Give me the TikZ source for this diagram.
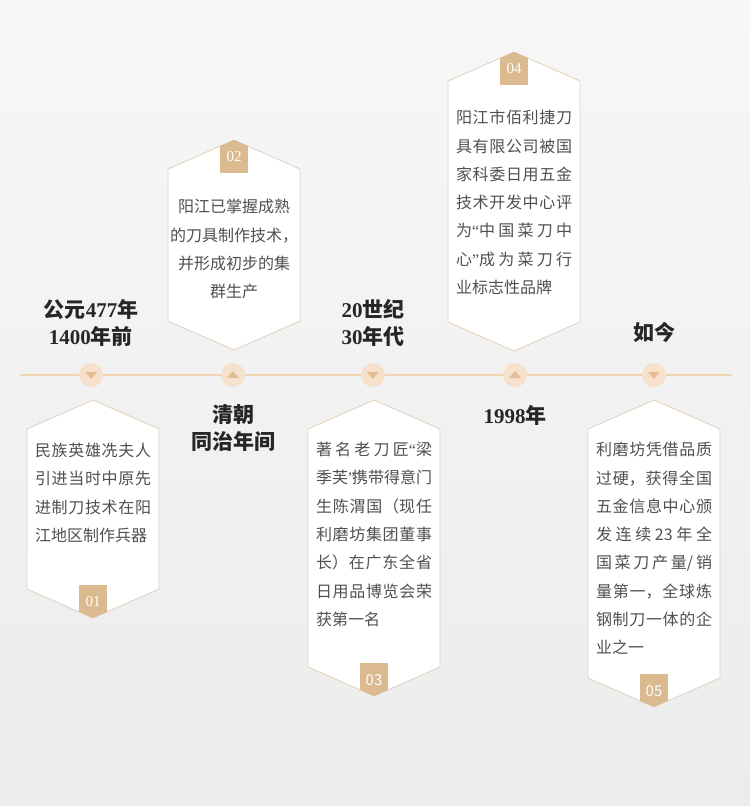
\documentclass[tikz,border=0pt]{standalone}
\usepackage{fontspec}
\setmainfont{Liberation Serif}
\newfontfamily\cjk{Noto Sans CJK SC}
\newcommand{\zh}[1]{{\cjk #1}}
\newcommand{\qm}[1]{{\rmfamily #1}}
\XeTeXlinebreaklocale "zh"
\XeTeXlinebreakskip=0pt plus 6pt minus 0.6pt

\definecolor{bgtop}{RGB}{247,247,247}
\definecolor{bgbot}{RGB}{236,236,236}
\definecolor{linec}{RGB}{240,212,178}
\definecolor{cardline}{RGB}{226,208,186}
\definecolor{badgec}{RGB}{218,186,142}
\definecolor{dotc}{RGB}{246,226,204}
\definecolor{tipc}{RGB}{228,190,146}
\definecolor{bodyc}{RGB}{80,80,80}
\definecolor{labc}{RGB}{38,38,38}

\begin{document}
\begin{tikzpicture}[x=1pt, y=-1pt,
    card/.style={draw=cardline, line width=0.8pt, fill=white},
    badgenum/.style={text=white, font=\fontsize{15}{15}\selectfont, inner sep=0pt},
    body/.style={text=bodyc, font=\cjk\fontsize{16}{28.3}\selectfont,
        text width=116pt, align=justify, inner sep=0pt, anchor=north},
    lab/.style={text=labc, font=\fontsize{21}{27}\selectfont\bfseries,
        align=center, inner sep=0pt},
    dot/.style={circle, minimum size=24pt, inner sep=0pt, fill=dotc}]

    % Background
    \useasboundingbox (0,0) rectangle (750,806);
    \shade[top color=bgtop, bottom color=bgbot] (0,0) rectangle (750,806);

    % Timeline
    \coordinate (start) at (20,375);
    \coordinate (end) at (732,375);
    \draw[line width=1.4pt, linec] (start) -- (end);

    % Cards: centre x / top apex / bottom apex / badge on top (0) or bottom (1) / number
    \foreach \cx/\ya/\yb/\side/\num in {93/400/618/1/01, 234/140/350/0/02,
        374/400/696/1/{\cjk 03}, 514/52/351/0/04, 654/400/707/1/{\cjk 05}}{
        \draw[card] (\cx,\ya) -- (\cx+66,\ya+29) -- (\cx+66,\yb-29) -- (\cx,\yb)
            -- (\cx-66,\yb-29) -- (\cx-66,\ya+29) -- cycle;
        \pgfmathsetmacro\by{\side==0 ? \ya : \yb-33}
        \begin{scope}
            \clip (\cx,\ya) -- (\cx+66,\ya+29) -- (\cx+66,\yb-29) -- (\cx,\yb)
                -- (\cx-66,\yb-29) -- (\cx-66,\ya+29) -- cycle;
            \fill[badgec] (\cx-14,\by) rectangle (\cx+14,\by+33);
        \end{scope}
        \node[badgenum] at (\cx,\by+17) {\num};
    }

    % Markers on the line (1 points down, -1 points up)
    \foreach \x/\d [count=\i] in {91/1, 233/-1, 373/1, 515/-1, 654/1}{
        \node[dot] (dot\i) at (\x,375) {};
        \fill[tipc] ([shift={(-6,-3*\d)}]dot\i.center) -- ([shift={(6,-3*\d)}]dot\i.center)
            -- ([shift={(0,4*\d)}]dot\i.center) -- cycle;
    }

    % Dates
    \node[lab] (lab1) at (91,323) {\zh{公元}477\zh{年}\\1400\zh{年前}};
    \node[lab] (lab2) at (233,428) {\zh{清朝}\\\zh{同治年间}};
    \node[lab] (lab3) at (373,323) {20\zh{世纪}\\30\zh{年代}};
    \node[lab] (lab4) at (515,415) {1998\zh{年}};
    \node[lab] (lab5) at (654,332) {\zh{如今}};

    % Card texts
    \node[body] (txt1) at (93,443) {民族英雄冼夫人\linebreak 引进当时中原先\linebreak
        进制刀技术在阳\linebreak 江地区制作兵器};
    \node[body, text width=132pt, align=center] (txt2) at (234,199) {\XeTeXlinebreakskip=0pt
        阳江已掌握成熟\\的刀具制作技术，\\并形成初步的集\\群生产};
    \node[body] (txt3) at (374,442) {著名老刀匠\qm{“}梁\linebreak
        \mbox{季芙\qm{”}\hspace{-3pt}携带得意门}\linebreak
        生陈渭国（现任\linebreak 利磨坊集团董事\linebreak 长）在广东全省\linebreak
        日用品博览会荣\linebreak 获第一名};
    \node[body] (txt4) at (514,110) {阳江市佰利捷刀\linebreak 具有限公司被国\linebreak
        家科委日用五金\linebreak 技术开发中心评\linebreak 为\qm{“}中国菜刀中\linebreak
        心\qm{”}成为菜刀行\linebreak 业标志性品牌};
    \node[body] (txt5) at (654,442) {利磨坊凭借品质\linebreak 过硬，获得全国\linebreak
        五金信息中心颁\linebreak 发连续23年全\linebreak 国菜刀产量/销\linebreak
        量第一，全球炼\linebreak 钢制刀一体的企\linebreak 业之一};
\end{tikzpicture}
\end{document}
